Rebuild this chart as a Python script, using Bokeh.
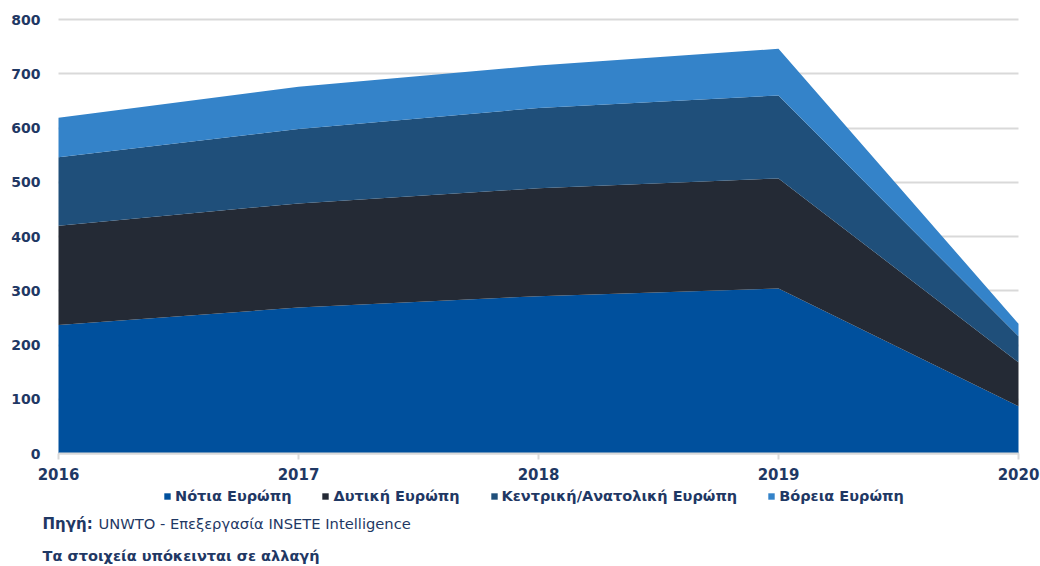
from bokeh.plotting import figure
from bokeh.models import ColumnDataSource, Legend, LegendItem, Label, FixedTicker, Range1d
from bokeh.embed import file_html
from bokeh.resources import INLINE

years = [2016, 2017, 2018, 2019, 2020]
south = [237, 269, 290, 304, 87]
west = [183, 192, 199, 203, 81]
central = [126, 137, 148, 153, 48]
north = [73, 78, 78, 86, 23]
series_names = ["Νότια Ευρώπη", "Δυτική Ευρώπη", "Κεντρική/Ανατολική Ευρώπη", "Βόρεια Ευρώπη"]
y_ticks = [0, 100, 200, 300, 400, 500, 600, 700, 800]

colors = ["#00509D", "#242A35", "#1F4F7A", "#3483C9"]
FONT = "DejaVu Sans"
NAVY = "#1F3864"

W, H = 1040, 566
# plot area in pixels
PL, PR, PT, PB = 58, 1018, 19, 453
x_scale = (PR - PL) / (years[-1] - years[0])
y_scale = (PB - PT) / (y_ticks[-1] - y_ticks[0])
x_start = years[0] - PL / x_scale
x_end = years[-1] + (W - PR) / x_scale
y_end = y_ticks[-1] + PT / y_scale
y_start = y_ticks[0] - (H - PB) / y_scale

source = ColumnDataSource(dict(year=years, s=south, w=west, c=central, n=north))

p = figure(width=W, height=H, output_backend="svg", toolbar_location=None,
           x_range=Range1d(x_start, x_end), y_range=Range1d(y_start, y_end),
           min_border_left=0, min_border_right=0, min_border_top=0, min_border_bottom=0)
p.outline_line_color = None
p.background_fill_color = "white"

renderers = p.varea_stack(stackers=["s", "w", "c", "n"], x="year", color=colors, source=source)

p.xgrid.visible = False
p.ygrid.grid_line_color = "#D9D9D9"
p.ygrid.grid_line_width = 2
p.ygrid.cross_bounds = (years[0], years[-1])
p.yaxis.ticker = FixedTicker(ticks=y_ticks)
p.xaxis.ticker = FixedTicker(ticks=years)
p.xaxis.fixed_location = 0
p.yaxis.fixed_location = years[0]
p.xaxis.bounds = (years[0], years[-1])
p.yaxis.bounds = (y_ticks[0], y_ticks[-1])
p.yaxis.axis_line_color = None
p.yaxis.major_tick_line_color = None
p.yaxis.minor_tick_line_color = None
p.yaxis.major_label_standoff = 12
p.xaxis.axis_line_color = "#D9D9D9"
p.xaxis.axis_line_width = 2
p.xaxis.major_tick_line_color = "#D9D9D9"
p.xaxis.major_tick_line_width = 2
p.xaxis.major_tick_in = 0
p.xaxis.major_tick_out = 6
p.xaxis.minor_tick_line_color = None
p.xaxis.major_label_standoff = 8
for ax in (p.xaxis, p.yaxis):
    ax.major_label_text_font = FONT
    ax.major_label_text_font_style = "bold"
    ax.major_label_text_font_size = "14px"
    ax.major_label_text_color = NAVY
p.xaxis.major_label_text_font_size = "15px"

items = [LegendItem(label=n, renderers=[r]) for n, r in zip(series_names, renderers)]
legend = Legend(items=items, orientation="horizontal", location=(163, 62),
                padding=0, spacing=30, label_standoff=4, glyph_width=8, glyph_height=8,
                border_line_color=None, background_fill_alpha=0,
                label_text_font=FONT, label_text_font_size="14.5px", label_text_font_style="bold",
                label_text_color=NAVY)
p.add_layout(legend, "center")

common = dict(x_units="screen", y_units="screen", text_font=FONT,
              text_color=NAVY, text_baseline="middle")
p.add_layout(Label(x=42, y=43, text="Πηγή:", text_font_style="bold", text_font_size="15px", **common))
p.add_layout(Label(x=98, y=43, text="UNWTO - Επεξεργασία INSETE Intelligence", text_font_size="14.7px", **common))
p.add_layout(Label(x=42, y=11, text="Τα στοιχεία υπόκεινται σε αλλαγή", text_font_style="bold",
                   text_font_size="14.5px", **common))

open("out.html", "w").write(file_html(p, INLINE))
